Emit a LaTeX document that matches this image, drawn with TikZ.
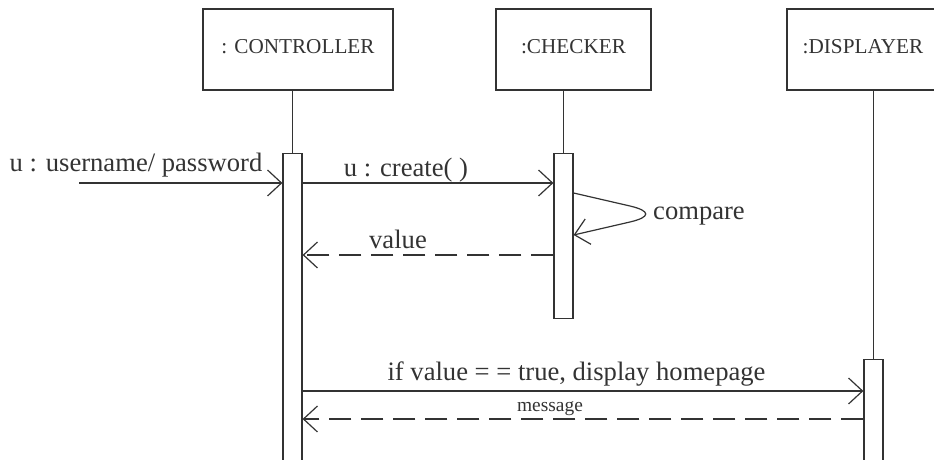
\documentclass[tikz,border=0pt]{standalone}
\usepackage{fontspec}
\setmainfont{Liberation Serif}
\usetikzlibrary{positioning,arrows.meta}

\begin{document}
\begin{tikzpicture}[x=0.5pt,y=-0.5pt,line width=0.6pt,color=black!80,
  >={Straight Barb[length=7pt,width=13pt]},
  obj/.style={draw,minimum height=40.5pt,inner sep=0pt,text depth=3.5pt,font=\fontsize{10.6}{12}\selectfont},
  bar/.style={draw,fill=white,minimum width=9.5pt,inner sep=0pt,anchor=north},
  msg/.style={anchor=base,inner sep=0pt,font=\fontsize{13.3}{15}\selectfont},
  ret/.style={->,dash pattern=on 11pt off 5pt}]
\useasboundingbox (0,0) rectangle (934,460);

\node[obj,minimum width=95pt] (ctrl) at (298,49.5) {: CONTROLLER};
\node[obj,minimum width=77.5pt] (chk) at (573.5,49.5) {:CHECKER\hspace{6pt}};
\node[obj,minimum width=76pt] (disp) at (863,49.5) {:DISPLAYER};

\node[bar,minimum height=161pt] (ctrlbar) at (292.5,153) {};
\node[bar,minimum height=82.5pt] (chkbar) at (563.5,153) {};
\node[bar,minimum height=60pt] (dispbar) at (873.5,359) {};

\draw (ctrl.south -| ctrlbar) -- (ctrlbar.north);
\draw (chk.south -| chkbar) -- (chkbar.north);
\draw (disp.south -| dispbar) -- (dispbar.north);

\coordinate (in) at (79,183);
\draw[->] (in) -- (in -| ctrlbar.west);
\node[msg] (login) at (136,172) {u : username/ password};

\draw[->] (ctrlbar.east |- 0,183) -- (chkbar.west |- 0,183);
\node[msg] (create) at (406,177) {u : create( )};

\draw[->] (chkbar.east |- 0,193) -- (630,206) .. controls (651,211) and (651,217) .. (630,222) -- (chkbar.east |- 0,235);
\node[msg] (compare) at (699,220) {compare};

\draw[ret] (chkbar.west |- 0,255) -- (ctrlbar.east |- 0,255);
\node[msg] (value) at (398,249) {value};

\draw[->] (ctrlbar.east |- 0,391) -- (dispbar.west |- 0,391);
\node[msg] (show) at (576.5,381) {if value = = true, display homepage};

\draw[ret] (dispbar.west |- 0,419) -- (ctrlbar.east |- 0,419);
\node[msg,font=\fontsize{9.7}{11}\selectfont] (message) at (550,412) {message};
\end{tikzpicture}
\end{document}
